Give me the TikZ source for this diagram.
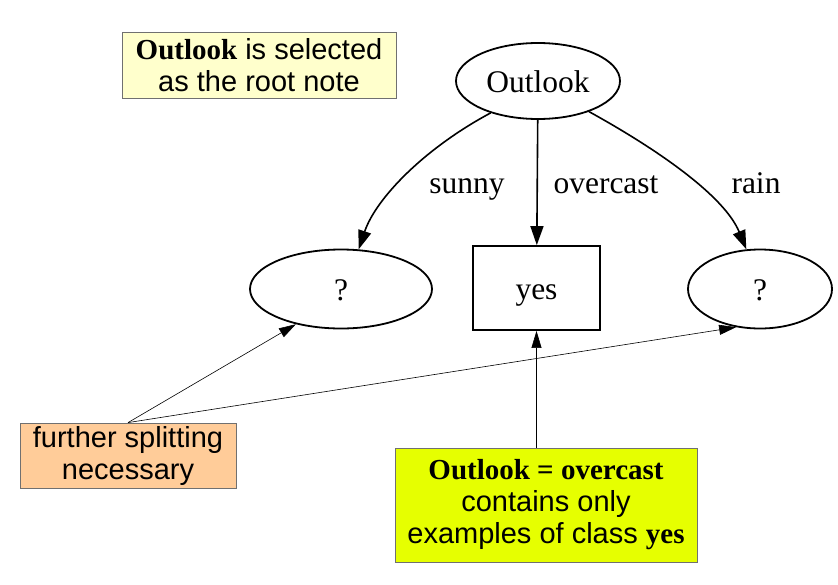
\documentclass[tikz,border=0pt]{standalone}
\usepackage{fontspec}
\setmainfont{Liberation Serif}
\setsansfont{Liberation Sans}
\usetikzlibrary{arrows.meta,shapes.geometric}
\definecolor{noteyellow}{HTML}{FFFFCC}
\definecolor{noteorange}{HTML}{FFCC99}
\definecolor{notegreen}{HTML}{E6FF00}
\definecolor{notegray}{HTML}{707070}
\begin{document}
\begin{tikzpicture}[x=1pt,y=-1pt,
  gnode/.style={draw=black,line width=1.8pt,font=\fontsize{31.5}{34}\selectfont,inner sep=0pt,text height=22pt,text depth=0pt},
  gell/.style={gnode,ellipse},
  glabel/.style={font=\fontsize{31.5}{34}\selectfont,inner sep=0pt,anchor=base},
  gedge/.style={line width=1.6pt,-{Triangle[length=19pt,width=13pt]}},
  note/.style={draw=notegray,line width=0.8pt,font=\sffamily\fontsize{29}{32}\selectfont,align=center,inner sep=0pt},
  nedge/.style={line width=0.6pt,-{Triangle[length=17pt,width=10pt]}}]
\useasboundingbox (0,0) rectangle (838,584);

\node[gell,minimum width=164pt,minimum height=76pt] (outlook) at (538,81) {Outlook};
\node[gell,minimum width=182pt,minimum height=79pt] (q1) at (341,289) {?};
\node[gnode,rectangle,minimum width=127pt,minimum height=84pt] (yes) at (536.5,288) {yes};
\node[gell,minimum width=144pt,minimum height=79pt] (q2) at (760,289) {?};

\draw[gedge] (outlook.214) .. controls (425,148) and (376,198) .. (q1.66);
\draw[gedge] (outlook) -- (yes);
\draw[gedge] (outlook.329) .. controls (655,148) and (724,195) .. (q2.109);

\node[glabel] (lsunny) at (467,193) {sunny};
\node[glabel] (lover) at (606,193) {overcast};
\node[glabel] (lrain) at (756,193) {rain};

\node[note,fill=noteyellow,minimum width=274pt,minimum height=66pt] (n1) at (259,65)
  {{\rmfamily\bfseries Outlook} is selected\\as the root note};
\node[note,fill=noteorange,minimum width=216pt,minimum height=65pt] (n2) at (128,455.5)
  {further splitting\\necessary};
\node[note,fill=notegreen,minimum width=302pt,minimum height=114pt] (n3) at (546,505)
  {{\rmfamily\bfseries Outlook = overcast}\\contains only\\examples of class {\rmfamily\bfseries yes}};

\draw[nedge] (n2.north) -- (q1.218);
\draw[nedge] (n2.north) -- (q2.238);
\draw[nedge] (n3.north -| yes.south) -- (yes.south);
\end{tikzpicture}
\end{document}
